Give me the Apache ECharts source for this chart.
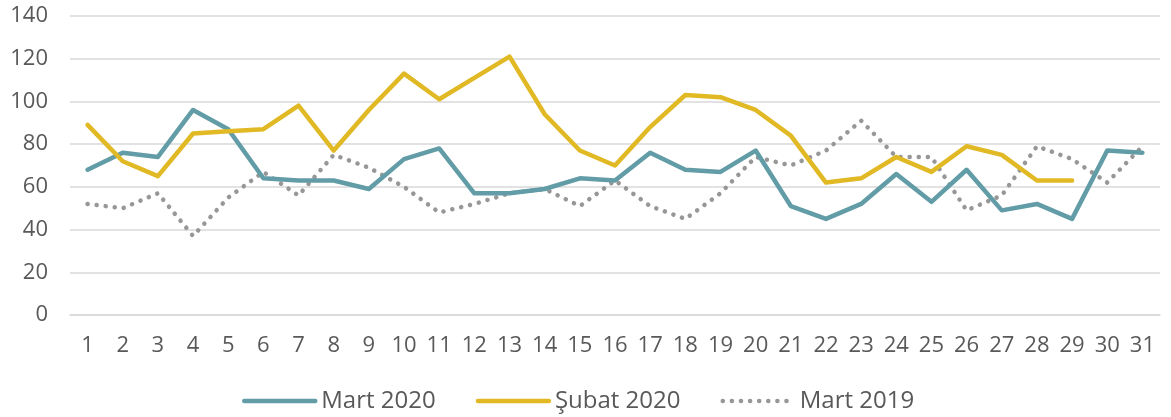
<!DOCTYPE html>
<html><head><meta charset="utf-8">
<script src="https://cdn.jsdelivr.net/npm/echarts@6/dist/echarts.min.js"></script>
<style>html,body{margin:0;padding:0;background:#fff}#c{width:1171px;height:417px}</style>
</head><body><div id="c"></div>
<script>
const days = ['1','2','3','4','5','6','7','8','9','10','11','12','13','14','15','16','17','18','19','20','21','22','23','24','25','26','27','28','29','30','31'];
const mart2020 = [68,76,74,96,87,64,63,63,59,73,78,57,57,59,64,63,76,68,67,77,51,45,52,66,53,68,49,52,45,77,76];
const subat2020 = [89,72,65,85,86,87,98,77,96,113,101,111,121,94,77,70,88,103,102,96,84,62,64,74,67,79,75,63,63,null,null];
const mart2019 = [52,50,57,37,55,67,56,75,69,60,48,52,57,59,51,63,51,45,57,74,70,77,91,74,74,49,56,79,73,62,79];
const seriesNames = ['Mart 2020','Şubat 2020','Mart 2019'];

const font = '"Open Sans", sans-serif';
const chart = echarts.init(document.getElementById('c'), null, {renderer:'canvas'});
chart.setOption({
  animation:false,
  textStyle:{fontFamily:font},
  grid:{left:70,right:11,top:16,bottom:102,containLabel:false},
  legend:{
    top:384, left:237,
    itemWidth:71, itemHeight:14, itemGap:40,
    itemStyle:{opacity:0},
    lineStyle:{width:'inherit',type:'inherit',cap:'round'},
    textStyle:{fontFamily:font,fontSize:24,color:'#595959',padding:[0,0,0,1]},
    data:seriesNames
  },
  xAxis:{
    type:'category', data:days, boundaryGap:true,
    axisLine:{lineStyle:{color:'#d9d9d9',width:1.5}},
    axisTick:{show:false},
    axisLabel:{color:'#595959',fontSize:22,margin:20,fontFamily:font,interval:0}
  },
  yAxis:{
    type:'value', min:0, max:140, interval:20,
    axisLine:{show:false}, axisTick:{show:false},
    splitLine:{lineStyle:{color:'#d9d9d9',width:1.5}},
    axisLabel:{color:'#595959',fontSize:22,margin:22,fontFamily:font}
  },
  series:[
    {name:seriesNames[0],type:'line',data:mart2020,symbol:'none',
     lineStyle:{color:'#629ca7',width:4.5,cap:'round',join:'round'},itemStyle:{color:'#629ca7'},z:3},
    {name:seriesNames[1],type:'line',data:subat2020,symbol:'none',connectNulls:false,
     lineStyle:{color:'#e0b924',width:4.5,cap:'round',join:'round'},itemStyle:{color:'#e0b924'},z:4},
    {name:seriesNames[2],type:'line',data:mart2019,symbol:'none',
     lineStyle:{color:'#979797',width:4.5,type:[0.1,9],cap:'round'},itemStyle:{color:'#979797'},z:2}
  ]
});
</script></body></html>
